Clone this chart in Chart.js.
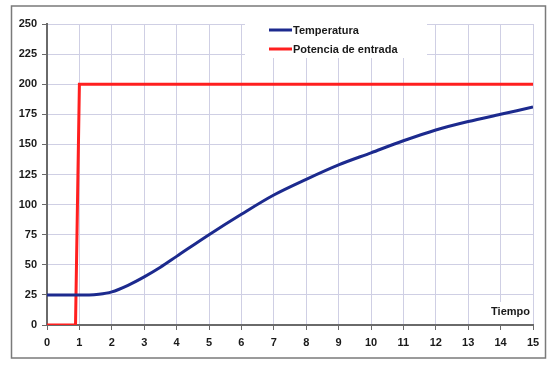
<!DOCTYPE html>
<html>
<head>
<meta charset="utf-8">
<script src="https://cdn.jsdelivr.net/npm/chart.js@4/dist/chart.umd.min.js"></script>
<style>
  html, body { margin: 0; padding: 0; background: #fff; }
  #wrap { width: 554px; height: 368px; }
</style>
</head>
<body>
<div id="wrap"><canvas id="graph"></canvas></div>
<script>
// values
const tiempo = [0, 0.5, 1, 1.3, 1.6, 2, 2.5, 3, 3.5, 4, 5, 6, 7, 8, 9, 10, 11, 12, 13, 14, 15]
const temperatura = [25, 25, 25, 25, 25.5, 27.5, 33, 40, 48, 57, 75, 92, 108, 121, 133, 143, 153, 162, 169, 175, 181]
const tiempoPotencia = [0, 0.88, 1.0, 15]
const potencia = [0, 0, 200, 200]
const seriesLabels = ["Temperatura", "Potencia de entrada"]
const xTicks = [0, 1, 2, 3, 4, 5, 6, 7, 8, 9, 10, 11, 12, 13, 14, 15]
const yTicks = [0, 25, 50, 75, 100, 125, 150, 175, 200, 225, 250]
const axisTitle = "Tiempo"

const colors = {
  temp: "#1c2a8e",
  pot: "#ff1f1f",
  grid: "#cfcfe4",
  axis: "#6a6a6a",
  text: "#1a1a1a",
}
const font = { family: "'Liberation Sans', Arial, sans-serif", size: 11, weight: "bold" }

const toPoints = (xs, ys) => xs.map((x, i) => ({ x: x, y: ys[i] }))

// white boxes for the legend and the "Tiempo" label, plus the outer frame
const overlay = {
  id: "overlay",
  beforeDatasetsDraw(chart) {
    const ctx = chart.ctx
    ctx.save()
    ctx.fillStyle = "#fff"
    ctx.fillRect(245, 19, 182, 39)
    ctx.fillRect(484, 302, 48, 22)

    ctx.font = `bold 11px ${font.family}`
    ctx.textBaseline = "middle"
    ctx.fillStyle = colors.text
    chart.data.datasets.forEach((ds, i) => {
      const y = 30 + i * 19
      ctx.strokeStyle = ds.borderColor
      ctx.lineWidth = 3
      ctx.beginPath()
      ctx.moveTo(269, y)
      ctx.lineTo(292, y)
      ctx.stroke()
      ctx.fillText(ds.label, 293, y + 1)
    })
    ctx.textAlign = "right"
    ctx.fillText(axisTitle, 530, 312)
    ctx.restore()
  },
  afterDraw(chart) {
    const ctx = chart.ctx
    ctx.save()
    ctx.strokeStyle = "#7a7a7a"
    ctx.lineWidth = 1.5
    ctx.strokeRect(11.5, 6, 534, 352)
    ctx.restore()
  },
}

const createChart = (canvas) => {
  return new Chart(canvas.getContext("2d"), {
    type: "line",
    data: {
      datasets: [
        {
          label: seriesLabels[0],
          data: toPoints(tiempo, temperatura),
          borderColor: colors.temp,
          borderWidth: 3,
          pointRadius: 0,
          cubicInterpolationMode: "monotone",
        },
        {
          label: seriesLabels[1],
          data: toPoints(tiempoPotencia, potencia),
          borderColor: colors.pot,
          borderWidth: 3,
          pointRadius: 0,
          tension: 0,
        },
      ],
    },
    options: {
      responsive: true,
      maintainAspectRatio: false,
      animation: false,
      layout: { padding: { left: 0, right: 21, top: 24, bottom: 0 } },
      plugins: {
        legend: { display: false },
        tooltip: { enabled: false },
      },
      scales: {
        x: {
          type: "linear",
          min: 0,
          max: 15,
          afterFit: (scale) => { scale.height = 43 },
          afterBuildTicks: (scale) => { scale.ticks = xTicks.map((v) => ({ value: v })) },
          grid: { color: colors.grid, lineWidth: 1, tickLength: 5, tickColor: colors.axis },
          border: { color: colors.axis, width: 2 },
          ticks: { color: colors.text, font: font, padding: 6, maxRotation: 0 },
        },
        y: {
          min: 0,
          max: 250,
          afterFit: (scale) => { scale.width = 47 },
          afterBuildTicks: (scale) => { scale.ticks = yTicks.map((v) => ({ value: v })) },
          grid: { color: colors.grid, lineWidth: 1, tickLength: 5, tickColor: colors.axis },
          border: { color: colors.axis, width: 2 },
          ticks: { color: colors.text, font: font, padding: 5 },
        },
      },
    },
    plugins: [overlay],
  })
}

createChart(document.getElementById("graph"))
</script>
</body>
</html>
